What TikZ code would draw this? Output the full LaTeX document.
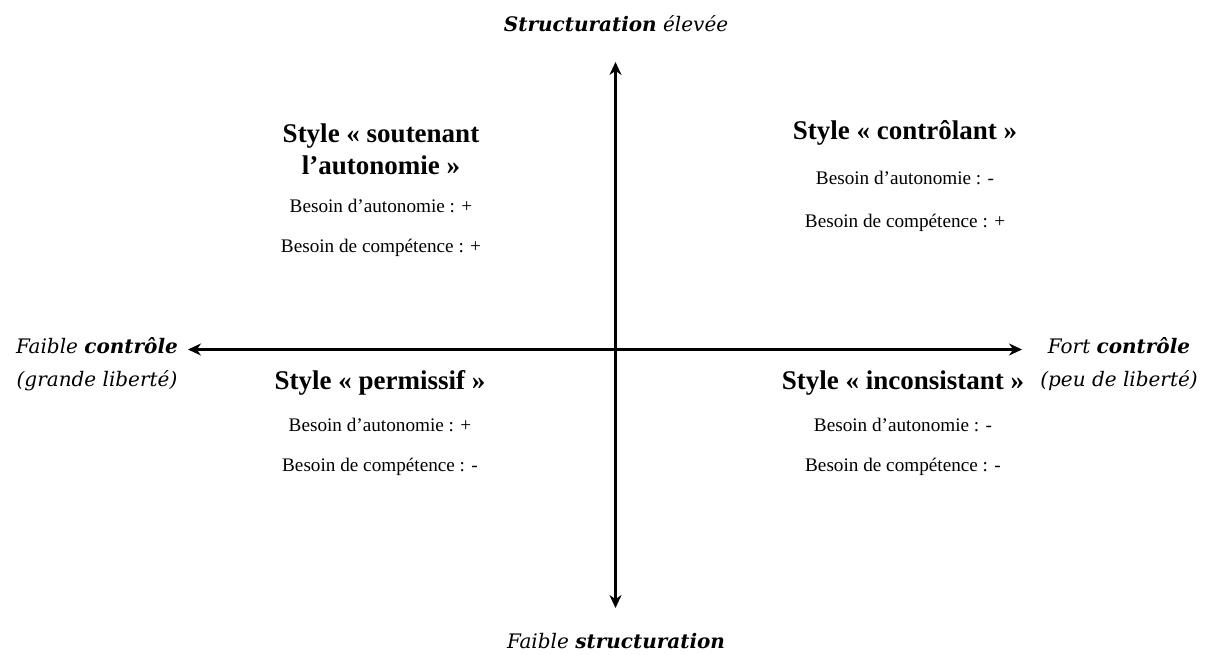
\documentclass[tikz,border=0pt]{standalone}
\usepackage{fontspec}
\setmainfont{Liberation Serif}
\newfontfamily\axisfont{DejaVu Serif}
\usepackage{tikz}
\usetikzlibrary{arrows.meta, positioning}
\tikzstyle{arrow} = [line width=2.6pt,{Stealth[length=13pt,width=12pt]}-{Stealth[length=13pt,width=12pt]}]
\tikzstyle{title} = [align=center, inner sep=0pt, font=\fontsize{27}{32}\selectfont\bfseries]
\tikzstyle{need} = [inner sep=0pt, font=\fontsize{19.2}{20}\selectfont]
\tikzset{
	axislabel/.style = {align=center, inner sep=0pt, font=\axisfont\fontsize{20}{33}\selectfont\itshape}
}

\begin{document}
\begin{tikzpicture}[x=1pt, y=-1pt]
\useasboundingbox (0,0) rectangle (1215,655);
%----------------------------------------------------------------------------
% Axes end points
\coordinate (top) at (615.5,62);
\coordinate (bottom) at (615.5,608);
\coordinate (left) at (188,349.5);
\coordinate (right) at (1022,349.5);

% Axis labels
\node (topLabel) [axislabel] at (616,24) {\textbf{Structuration} élevée};
\node (bottomLabel) [axislabel] at (616,641) {Faible \textbf{structuration}};
\node (leftLabel) [axislabel] at (97,364) {Faible \textbf{contrôle}\\(grande liberté)};
\node (rightLabel) [axislabel] at (1119,364) {Fort \textbf{contrôle}\\(peu de liberté)};

%----------------------------------------------------------------------------
% Quadrants
\node (supportive) [title] at (381,149) {Style « soutenant\\l’autonomie »};
\node (supAuto) [need, below = 24pt of supportive] {Besoin d’autonomie : +};
\node (supComp) [need, below = 26pt of supAuto] {Besoin de compétence : +};

\node (controlling) [title] at (905,133) {Style « contrôlant »};
\node (conAuto) [need, below = 25pt of controlling] {Besoin d’autonomie : -};
\node (conComp) [need, below = 29pt of conAuto] {Besoin de compétence : +};

\node (permissive) [title] at (380,383) {Style « permissif »};
\node (perAuto) [need, below = 22pt of permissive] {Besoin d’autonomie : +};
\node (perComp) [need, below = 26pt of perAuto] {Besoin de compétence : -};

\node (inconsistent) [title] at (903,383) {Style « inconsistant »};
\node (incAuto) [need, below = 22pt of inconsistent] {Besoin d’autonomie : -};
\node (incComp) [need, below = 26pt of incAuto] {Besoin de compétence : -};

%----------------------------------------------------------------------------
% Draw axes
\draw [arrow] (bottom) -- (top);
\draw [arrow] (left) -- (right);

\end{tikzpicture}
\end{document}
